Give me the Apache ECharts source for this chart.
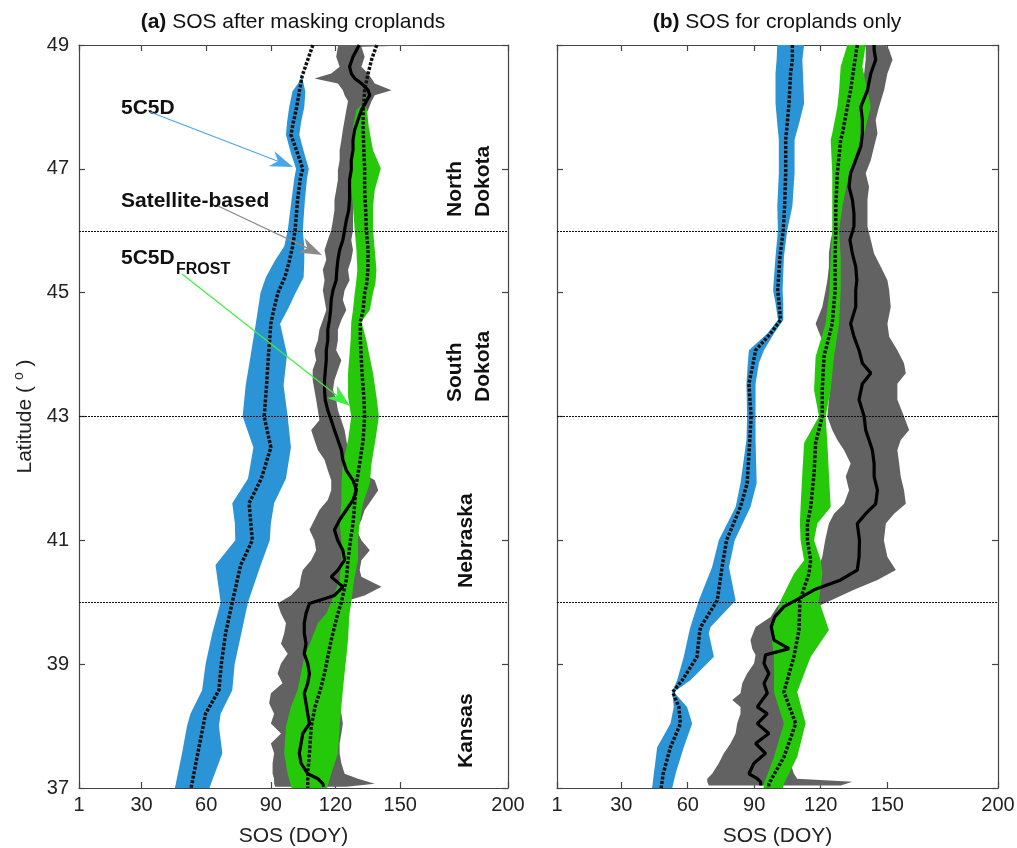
<!DOCTYPE html>
<html lang="en">
<head>
<meta charset="UTF-8">
<style>
html, body { height: 100%; margin: 0; background: #fff; }
</style>
</head>
<body>
<div id="chart" style="width:1017px;height:848px;"></div>
<script src="https://cdn.jsdelivr.net/npm/echarts@6/dist/echarts.min.js"></script>
<script>
// rows are [latitude, lower, centre, upper] in SOS (DOY)
var blueA = [
  [49.0, 109.5, 109.5, 109.5], [48.75, 107.0, 107.0, 107.0], [48.5, 104.5, 104.5, 104.5],
  [48.4, 103.0, 104.0, 105.0], [48.25, 100.0, 103.2, 106.0], [48.0, 98.5, 102.0, 105.5],
  [47.75, 97.5, 100.4, 104.0], [47.55, 97.0, 99.3, 103.2], [47.25, 99.3, 102.4, 105.5],
  [47.0, 101.7, 104.8, 107.6], [46.85, 100.9, 103.7, 106.8], [46.5, 99.6, 102.4, 105.8],
  [46.0, 97.8, 101.2, 104.8], [45.75, 96.2, 100.1, 105.5], [45.5, 91.6, 98.5, 105.5],
  [45.25, 87.7, 96.5, 105.2], [45.0, 85.2, 93.3, 101.5], [44.75, 84.1, 91.5, 98.1],
  [44.5, 83.0, 90.0, 94.3], [44.0, 80.7, 88.9, 97.5], [43.5, 78.3, 88.0, 95.9],
  [43.0, 76.9, 86.9, 97.8], [42.5, 81.9, 90.0, 99.3], [42.0, 79.4, 85.6, 97.0],
  [41.6, 72.1, 79.9, 91.5], [41.27, 73.3, 80.7, 90.0], [41.0, 73.5, 81.4, 89.5],
  [40.6, 64.3, 76.0, 85.3], [40.0, 66.7, 72.1, 79.4], [39.5, 62.8, 69.0, 76.3],
  [39.0, 59.7, 67.0, 73.2], [38.58, 58.1, 65.9, 72.1], [38.2, 52.7, 59.7, 66.7],
  [38.0, 51.1, 58.6, 65.9], [37.56, 48.8, 56.1, 67.5], [37.0, 45.5, 53.0, 61.5]
];
var greenA = [
  [49.0, 139.1, 139.1, 139.1], [48.76, 136.7, 136.7, 136.7], [48.54, 135.1, 135.1, 135.1],
  [48.27, 133.5, 133.5, 133.5], [48.06, 132.8, 133.1, 133.5], [47.95, 129.7, 132.8, 134.6],
  [47.68, 128.1, 132.8, 135.4], [47.3, 127.3, 133.1, 137.4], [47.01, 126.5, 133.5, 141.0],
  [46.66, 127.3, 133.5, 138.2], [46.39, 128.1, 133.9, 137.4], [46.01, 128.9, 134.3, 137.4],
  [45.69, 129.7, 135.1, 138.2], [45.37, 130.1, 135.0, 139.0], [45.15, 129.5, 134.5, 138.5],
  [45.0, 128.9, 133.5, 137.4], [44.72, 128.1, 132.8, 135.9], [44.53, 127.3, 131.5, 132.0],
  [44.23, 127.0, 131.5, 134.3], [43.7, 125.8, 132.3, 137.4], [43.32, 125.8, 133.1, 139.0],
  [43.0, 127.3, 133.5, 140.1], [42.62, 125.8, 132.8, 138.5], [42.24, 123.4, 131.2, 136.7],
  [41.92, 122.7, 129.7, 135.9], [41.6, 122.7, 128.9, 132.8], [41.27, 121.9, 128.1, 131.2],
  [41.0, 122.7, 126.9, 130.4], [40.68, 122.7, 125.8, 130.4], [40.36, 121.9, 125.0, 128.6],
  [40.0, 118.0, 122.7, 127.3], [39.82, 115.7, 121.1, 126.5], [39.66, 111.8, 119.9, 126.2],
  [39.39, 108.7, 118.0, 125.8], [39.12, 105.5, 116.4, 125.0], [38.85, 104.0, 114.9, 124.2],
  [38.58, 102.4, 112.9, 123.4], [38.31, 99.3, 110.5, 122.7], [37.99, 97.0, 108.7, 121.9],
  [37.56, 96.2, 107.9, 121.1], [37.23, 97.8, 107.1, 118.0], [37.0, 99.6, 107.1, 116.1]
];
var satA = [
  [49.0, 121.0, 131.0, 165.0], [48.97, 121.1, 130.7, 132.0], [48.81, 120.3, 128.1, 133.5],
  [48.65, 121.9, 126.5, 132.0], [48.54, 118.0, 127.3, 135.1], [48.46, 110.2, 128.9, 136.7],
  [48.38, 121.1, 132.0, 138.2], [48.27, 123.4, 135.1, 146.0], [48.19, 124.2, 135.9, 138.2],
  [48.09, 125.8, 134.3, 136.7], [47.95, 125.0, 132.0, 135.1], [47.79, 124.2, 130.4, 132.0],
  [47.63, 123.4, 128.9, 131.2], [47.46, 122.7, 128.1, 130.4], [47.3, 121.9, 128.1, 129.7],
  [47.14, 121.9, 127.3, 130.4], [46.98, 121.1, 127.3, 129.7], [46.82, 121.1, 126.5, 130.4],
  [46.66, 120.3, 126.5, 129.7], [46.5, 119.5, 126.5, 128.9], [46.33, 119.5, 126.1, 128.1],
  [46.17, 118.8, 125.0, 128.1], [46.01, 118.0, 124.2, 128.1], [45.85, 116.4, 123.4, 127.3],
  [45.69, 114.9, 121.9, 128.1], [45.53, 115.7, 121.1, 127.3], [45.37, 114.1, 120.6, 125.8],
  [45.2, 114.9, 120.3, 126.5], [45.04, 114.1, 118.8, 124.2], [44.88, 114.9, 118.0, 123.4],
  [44.72, 115.7, 117.7, 125.0], [44.56, 114.1, 117.2, 122.7], [44.4, 112.5, 116.4, 121.1],
  [44.23, 111.8, 116.4, 121.1], [44.07, 110.2, 115.7, 120.3], [43.91, 111.0, 115.7, 122.7],
  [43.75, 109.4, 115.3, 121.1], [43.59, 109.4, 114.9, 119.5], [43.43, 110.2, 114.9, 118.8],
  [43.27, 111.0, 115.2, 120.3], [43.1, 111.8, 116.4, 121.1], [42.94, 112.5, 118.0, 122.7],
  [42.78, 108.7, 119.5, 124.2], [42.62, 110.2, 121.1, 125.0], [42.46, 111.8, 122.7, 125.8],
  [42.3, 114.9, 123.4, 127.3], [42.13, 116.4, 125.0, 130.4], [41.97, 118.0, 128.1, 138.2],
  [41.81, 118.0, 129.7, 139.8], [41.65, 116.4, 128.1, 136.7], [41.49, 112.5, 125.0, 133.5],
  [41.33, 110.2, 121.9, 132.0], [41.17, 107.9, 119.5, 129.7], [41.0, 110.2, 121.0, 132.0],
  [40.84, 111.0, 123.4, 135.9], [40.68, 108.7, 124.2, 132.0], [40.52, 104.8, 121.1, 131.2],
  [40.41, 104.0, 118.0, 132.0], [40.25, 103.2, 123.4, 141.3], [40.11, 99.3, 119.5, 133.5],
  [39.98, 93.1, 107.9, 121.1], [39.82, 94.7, 106.3, 116.4], [39.66, 97.0, 105.5, 114.9],
  [39.5, 96.2, 105.5, 113.3], [39.33, 94.7, 106.3, 111.8], [39.17, 97.8, 105.5, 111.8],
  [39.01, 94.7, 107.1, 113.3], [38.85, 93.1, 107.9, 116.4], [38.69, 95.4, 107.1, 118.0],
  [38.53, 90.0, 105.5, 121.1], [38.37, 89.2, 106.3, 121.9], [38.2, 91.5, 107.1, 122.7],
  [38.04, 90.0, 107.9, 123.4], [37.88, 94.7, 104.8, 122.7], [37.72, 90.0, 104.0, 121.9],
  [37.56, 91.5, 103.2, 121.9], [37.4, 90.8, 104.0, 122.7], [37.23, 90.8, 107.1, 124.2],
  [37.15, 91.5, 111.8, 130.4], [37.07, 91.5, 114.1, 138.2], [37.02, 92.0, 114.5, 125.0]
];
var blueB = [
  [49.0, 100.4, 107.2, 112.5], [48.76, 100.1, 107.2, 111.7], [48.54, 99.6, 106.4, 112.0],
  [48.06, 99.6, 105.7, 112.5], [47.73, 100.4, 104.9, 110.2], [47.47, 101.1, 104.2, 108.2],
  [46.93, 101.1, 104.2, 108.2], [46.39, 100.4, 103.7, 107.2], [46.01, 100.7, 103.1, 104.9],
  [45.58, 99.6, 101.6, 103.4], [45.04, 98.5, 100.6, 102.8], [44.83, 99.6, 101.2, 103.1],
  [44.56, 100.7, 101.9, 103.1], [44.34, 95.9, 97.4, 98.9], [44.07, 87.6, 90.6, 94.4],
  [43.86, 87.1, 89.5, 92.1], [43.53, 86.5, 87.6, 90.6], [43.0, 86.8, 88.6, 90.6],
  [42.62, 86.5, 88.0, 90.6], [41.92, 83.8, 86.8, 91.1], [41.54, 81.6, 83.8, 88.3],
  [41.0, 74.0, 77.5, 81.2], [40.57, 71.0, 75.5, 78.6], [40.03, 65.0, 73.3, 81.6],
  [39.6, 61.2, 65.8, 70.3], [39.5, 60.5, 65.3, 69.5], [39.12, 58.2, 64.2, 71.8],
  [38.74, 55.2, 57.5, 61.2], [38.55, 53.0, 53.2, 53.7], [38.31, 53.7, 56.0, 59.7],
  [38.04, 52.2, 56.7, 62.0], [37.66, 46.2, 52.2, 58.2], [37.23, 44.7, 48.9, 54.5],
  [37.0, 43.9, 48.0, 53.0]
];
var greenB = [
  [49.0, 132.0, 136.5, 140.3], [48.65, 129.0, 135.0, 138.8], [48.27, 128.3, 133.5, 141.1],
  [48.0, 127.5, 132.0, 142.6], [47.57, 125.2, 129.8, 139.6], [47.47, 124.5, 129.0, 138.1],
  [46.93, 125.2, 127.5, 132.8], [46.39, 125.2, 126.8, 129.8], [46.01, 125.2, 126.8, 128.3],
  [45.58, 124.5, 126.5, 129.0], [45.04, 124.0, 126.5, 129.0], [44.5, 122.2, 125.2, 128.3],
  [43.97, 117.7, 121.5, 126.0], [43.43, 117.0, 120.7, 124.5], [43.0, 119.2, 120.7, 122.2],
  [42.57, 112.5, 117.7, 123.0], [42.08, 111.7, 117.0, 123.7], [41.54, 110.9, 115.5, 124.5],
  [41.27, 110.6, 114.0, 118.5], [41.0, 110.9, 114.0, 117.0], [40.68, 112.5, 115.5, 120.0],
  [40.46, 107.9, 114.7, 120.8], [40.03, 101.9, 110.6, 119.2], [39.55, 97.4, 110.2, 123.7],
  [39.12, 98.9, 107.9, 115.5], [38.55, 98.9, 103.4, 109.4], [38.04, 103.4, 108.7, 113.2],
  [37.5, 98.9, 103.4, 109.4], [37.07, 94.4, 96.6, 103.4], [37.0, 94.2, 96.5, 103.0]
];
var satB = [
  [49.0, 126.8, 144.1, 148.0], [48.97, 140.3, 144.1, 150.1], [48.92, 140.3, 144.1, 150.9],
  [48.76, 140.3, 144.8, 152.4], [48.54, 139.6, 142.6, 150.1], [48.27, 138.8, 141.1, 148.6],
  [48.0, 137.3, 138.1, 146.3], [47.79, 136.5, 138.8, 144.8], [47.57, 135.0, 138.8, 145.6],
  [47.36, 133.5, 138.1, 144.1], [47.14, 132.0, 135.8, 142.6], [46.93, 130.5, 133.5, 140.3],
  [46.71, 129.8, 132.8, 141.8], [46.5, 129.0, 134.3, 141.1], [46.28, 128.3, 135.0, 141.1],
  [46.07, 126.0, 135.0, 141.1], [45.85, 124.5, 133.2, 142.6], [45.63, 123.7, 134.3, 144.1],
  [45.42, 123.7, 135.8, 147.1], [45.2, 123.0, 136.3, 150.1], [45.04, 122.2, 135.8, 150.9],
  [44.77, 120.7, 135.8, 151.6], [44.5, 117.7, 133.5, 150.1], [44.29, 120.0, 135.0, 150.9],
  [44.07, 122.2, 137.3, 154.6], [43.86, 123.7, 138.8, 157.6], [43.7, 124.5, 142.6, 158.4],
  [43.53, 124.5, 138.8, 154.6], [43.27, 123.7, 137.3, 154.6], [43.0, 123.0, 139.6, 157.6],
  [42.78, 125.2, 140.3, 159.9], [42.62, 127.5, 141.8, 156.1], [42.46, 130.5, 143.3, 154.6],
  [42.24, 133.5, 144.1, 155.4], [42.03, 131.3, 144.1, 156.1], [41.81, 132.8, 145.6, 157.6],
  [41.59, 130.5, 144.8, 158.4], [41.43, 126.0, 140.3, 153.1], [41.27, 123.7, 136.5, 149.4],
  [41.0, 122.0, 137.5, 148.5], [40.73, 120.7, 137.3, 150.1], [40.52, 118.5, 136.5, 153.9],
  [40.36, 114.0, 129.0, 145.6], [40.2, 109.4, 117.0, 135.0], [40.03, 103.4, 108.7, 124.5],
  [39.93, 100.4, 103.4, 118.5], [39.76, 97.4, 99.2, 109.4], [39.6, 90.6, 97.7, 104.9],
  [39.39, 88.3, 98.9, 103.4], [39.25, 89.1, 105.7, 106.4], [39.15, 90.6, 95.1, 104.9],
  [39.01, 89.9, 94.4, 102.6], [38.85, 86.8, 96.6, 101.9], [38.69, 84.6, 94.4, 101.9],
  [38.53, 83.8, 95.9, 101.1], [38.42, 80.1, 93.6, 101.1], [38.31, 83.8, 91.4, 101.9],
  [38.2, 83.8, 95.9, 102.6], [38.04, 82.3, 91.4, 104.9], [37.88, 81.6, 96.6, 103.4],
  [37.72, 79.3, 90.6, 101.9], [37.56, 76.3, 95.1, 104.9], [37.4, 74.0, 89.9, 106.4],
  [37.23, 71.0, 87.6, 107.9], [37.15, 68.8, 91.4, 109.4], [37.1, 68.8, 92.9, 134.3],
  [37.04, 69.5, 93.0, 129.0]
];

var borders = [46, 43, 40];
var xTicks = [1, 30, 60, 90, 120, 150, 200];
var yTicks = [37, 39, 41, 43, 45, 47, 49];
var panelTitles = ['SOS after masking croplands', 'SOS for croplands only'];
var panelTags = ['(a)', '(b)'];

var FONT = '"Liberation Sans", Arial, sans-serif';
var BLUE = '#2b94d6', GREEN = '#26c90a', GRAY = '#626262';

var grids = [
    {left: 79, top: 45, width: 429, height: 743, outerBoundsMode: 'none'},
    {left: 557, top: 45, width: 441, height: 743, outerBoundsMode: 'none'}
];

var axisLine = {onZero: false, lineStyle: {color: '#444', width: 1.2}};
var tick = {inside: true, length: 6, lineStyle: {color: '#444', width: 1.2}};

var xAxes = [], yAxes = [];
[0, 1].forEach(function (p) {
    xAxes.push({
        gridIndex: p, type: 'value', min: 1, max: 200, position: 'bottom',
        axisLine: axisLine, splitLine: {show: false},
        axisTick: Object.assign({customValues: xTicks}, tick),
        axisLabel: {customValues: xTicks, fontSize: 20, color: '#222', fontFamily: FONT, margin: 7},
        name: 'SOS (DOY)', nameLocation: 'middle', nameGap: 38,
        nameTextStyle: {fontSize: 21, color: '#222', fontFamily: FONT}
    });
    xAxes.push({
        gridIndex: p, type: 'value', min: 1, max: 200, position: 'top',
        axisLine: axisLine, splitLine: {show: false},
        axisTick: Object.assign({customValues: xTicks}, tick),
        axisLabel: {show: false}
    });
    yAxes.push({
        gridIndex: p, type: 'value', min: 37, max: 49, position: 'left',
        axisLine: axisLine, splitLine: {show: false},
        axisTick: Object.assign({customValues: yTicks}, tick),
        axisLabel: {show: p === 0, customValues: yTicks, fontSize: 20, color: '#222', fontFamily: FONT, margin: 10},
        name: p === 0 ? 'Latitude ( {s|o} )' : '',
        nameLocation: 'middle', nameRotate: 90, nameGap: 41,
        nameTextStyle: {
            fontSize: 21, color: '#222', fontFamily: FONT, lineHeight: 26,
            rich: {s: {fontSize: 14, color: '#222', fontFamily: FONT, verticalAlign: 'top', lineHeight: 26}}
        }
    });
    yAxes.push({
        gridIndex: p, type: 'value', min: 37, max: 49, position: 'right',
        axisLine: axisLine, splitLine: {show: false},
        axisTick: Object.assign({customValues: yTicks}, tick),
        axisLabel: {show: false}
    });
});

// filled envelope between lower and upper bounds
function band(rows, color, p, z) {
    return {
        type: 'custom', xAxisIndex: p * 2, yAxisIndex: p * 2, z: z, silent: true, clip: true,
        data: rows.map(function (r) { return [r[1], r[0]]; }),
        encode: {x: 0, y: 1},
        renderItem: function (params, api) {
            if (params.dataIndex !== 0) return null;
            var pts = [];
            rows.forEach(function (r) { pts.push(api.coord([r[1], r[0]])); });
            for (var i = rows.length - 1; i >= 0; i--) pts.push(api.coord([rows[i][3], rows[i][0]]));
            return {type: 'polygon', shape: {points: pts}, style: {fill: color}};
        }
    };
}

function centre(rows, p, lineStyle, z) {
    return {
        type: 'line', xAxisIndex: p * 2, yAxisIndex: p * 2, z: z, silent: true,
        symbol: 'none', showSymbol: false,
        data: rows.map(function (r) { return [r[2], r[0]]; }),
        lineStyle: lineStyle
    };
}

var dotted = {color: '#111', width: 3.5, type: [3, 1.6]};
var solid = {color: '#000', width: 3.2};

var series = [];
[[blueA, greenA, satA], [blueB, greenB, satB]].forEach(function (set, p) {
    series.push(band(set[2], GRAY, p, 1));
    series.push(band(set[1], GREEN, p, 2));
    series.push(band(set[0], BLUE, p, 3));
    series.push(centre(set[0], p, dotted, 5));
    series.push(centre(set[1], p, dotted, 5));
    var s = centre(set[2], p, solid, 6);
    s.markLine = {
        silent: true, symbol: 'none', label: {show: false},
        lineStyle: {color: '#111', width: 1, type: [2, 1]},
        data: borders.map(function (b) { return {yAxis: b}; })
    };
    series.push(s);
});

function arrow(x1, y1, x2, y2, color) {
    var dx = x2 - x1, dy = y2 - y1, len = Math.sqrt(dx * dx + dy * dy);
    var ux = dx / len, uy = dy / len, hl = 23, hw = 8;
    var bx = x2 - ux * hl, by = y2 - uy * hl;
    var nx = x2 - ux * hl * 0.7, ny = y2 - uy * hl * 0.7;
    return [
        {type: 'line', shape: {x1: x1, y1: y1, x2: nx, y2: ny}, style: {stroke: color, lineWidth: 1.2}, z: 20},
        {type: 'polygon', shape: {points: [[x2, y2], [bx - uy * hw, by + ux * hw], [nx, ny], [bx + uy * hw, by - ux * hw]]},
         style: {fill: color}, z: 20}
    ];
}

function txt(x, y, text, size, weight, extra) {
    return {
        type: 'text', x: x, y: y, z: 20, rotation: extra && extra.rot || 0,
        style: Object.assign({
            text: text, fontSize: size, fontWeight: weight, fontFamily: FONT, fill: '#111',
            align: 'left', verticalAlign: 'middle'
        }, extra && extra.style || {})
    };
}

var graphics = [];
[293, 777].forEach(function (cx, p) {
    graphics.push(txt(cx, 22, '{b|' + panelTags[p] + '} ' + panelTitles[p], 21, 'normal', {style: {
        align: 'center',
        rich: {b: {fontWeight: 'bold', fontSize: 21, fontFamily: FONT, fill: '#111'}}
    }}));
});
graphics.push(txt(121, 108, '5C5D', 21, 'bold'));
graphics.push(txt(121, 201, 'Satellite-based', 21, 'bold'));
graphics.push(txt(121, 258, '5C5D', 21, 'bold'));
graphics.push(txt(176, 270, 'FROST', 16, 'bold'));
graphics = graphics.concat(arrow(150, 112, 293, 167, '#4aa5ea'));
graphics = graphics.concat(arrow(218, 206, 322, 255, '#8a8a8a'));
graphics = graphics.concat(arrow(182, 274, 350, 406, '#3ef03e'));

var R = Math.PI / 2;
graphics.push(txt(469, 217, 'North\nDokota', 21, 'bold', {rot: R, style: {lineHeight: 28}}));
graphics.push(txt(469, 402, 'South\nDokota', 21, 'bold', {rot: R, style: {lineHeight: 28}}));
graphics.push(txt(466, 588, 'Nebraska', 21, 'bold', {rot: R}));
graphics.push(txt(466, 768, 'Kansas', 21, 'bold', {rot: R}));

var myChart = echarts.init(document.getElementById('chart'));
myChart.setOption({
    animation: false,
    backgroundColor: '#fff',
    grid: grids,
    xAxis: xAxes,
    yAxis: yAxes,
    series: series,
    graphic: graphics
});
</script>
</body>
</html>
